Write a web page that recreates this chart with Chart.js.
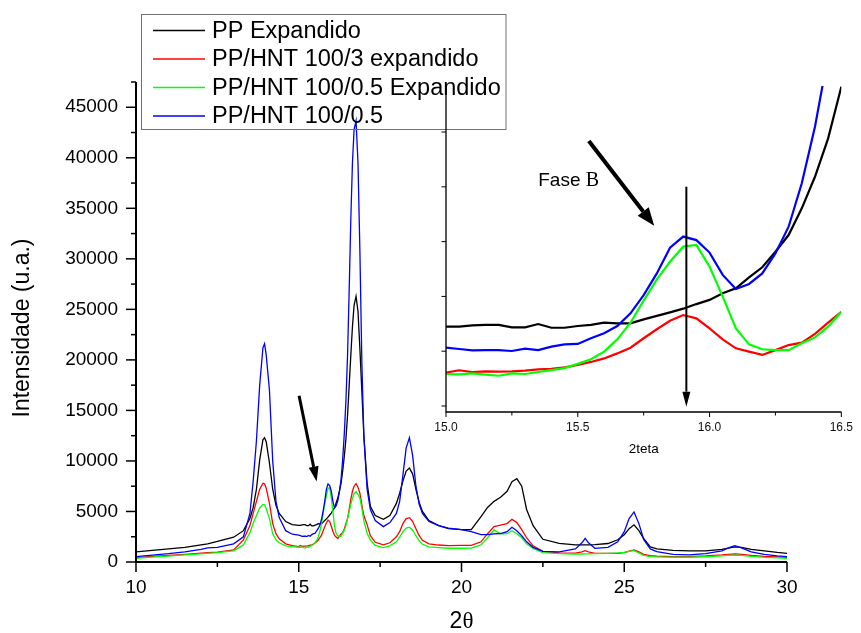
<!DOCTYPE html>
<html>
<head>
<meta charset="utf-8">
<script src="https://cdn.jsdelivr.net/npm/chart.js@4.4.1/dist/chart.umd.min.js"></script>
<style>
    html, body { margin: 0; padding: 0; background: #fff; }
    #wrap { position: relative; width: 861px; height: 633px; }
    #wrap canvas { position: absolute; left: 0; top: 0; }
</style>
</head>
<body>
<div id="wrap">
    <canvas id="mainChart" width="861" height="633"></canvas>
    <canvas id="insetChart" width="861" height="633"></canvas>
</div>
<script>
// 2theta positions (denser around the peaks, 0.05 steps in the zoomed window)
const theta = [
    10.0, 10.5, 11.0, 11.5, 12.0, 12.2, 12.5, 13.0, 13.3, 13.5, 13.6, 13.7, 13.8, 13.9, 13.95, 14.0, 14.1, 14.2, 14.3, 14.4, 14.6, 14.8,
    15.0, 15.05, 15.1, 15.15, 15.2, 15.25, 15.3, 15.35, 15.4, 15.45, 15.5, 15.55, 15.6, 15.65, 15.7, 15.75,
    15.8, 15.85, 15.9, 15.95, 16.0, 16.05, 16.1, 16.15, 16.2, 16.25, 16.3, 16.35, 16.4, 16.45, 16.5,
    16.55, 16.6, 16.65, 16.7, 16.76, 16.82, 16.88, 16.94, 17.0, 17.1, 17.2, 17.35, 17.6, 17.8, 18.0, 18.1,
    18.2, 18.3, 18.4, 18.5, 18.6, 18.7, 18.8, 19.0, 19.3, 19.6, 20.0, 20.3, 20.6, 20.8, 21.0, 21.2, 21.4,
    21.55, 21.7, 21.85, 22.0, 22.2, 22.5, 23.0, 23.5, 23.7, 23.8, 23.9, 24.1, 24.5, 24.8, 25.0, 25.15, 25.3,
    25.45, 25.6, 25.8, 26.0, 26.5, 27.0, 27.5, 28.0, 28.2, 28.4, 28.6, 28.9, 29.3, 29.7, 30.0,
];

const ppExpandido = [
    1000, 1150, 1300, 1450, 1700, 1800, 2050, 2450, 3100, 4300, 5400, 7200, 10100, 12100, 12300, 11900, 9800, 7200, 5600, 4800, 4000, 3700,
    3620, 3620, 3680, 3700, 3700, 3590, 3590, 3740, 3570, 3570, 3650, 3700, 3800, 3770, 3770, 3950,
    4110, 4270, 4440, 4650, 4840, 5140, 5370, 5870, 6330, 7040, 7800, 9020, 10460, 12210, 14570,
    17500, 20500, 23300, 25400, 26300, 24800, 21000, 16800, 12500, 7800, 5500, 4600, 4230, 4600, 5800, 6800,
    8000, 9000, 9300, 8700, 7200, 5900, 5000, 4100, 3600, 3300, 3200, 3200, 4500, 5400, 6000, 6400, 7000,
    7950, 8250, 7500, 5200, 3600, 2250, 1850, 1700, 1700, 1700, 1700, 1720, 1830, 2200, 2700, 3300, 3680,
    3100, 2300, 1500, 1300, 1150, 1100, 1100, 1250, 1380, 1500, 1450, 1250, 1100, 950, 860,
];

const hnt3Expandido = [
    430, 550, 650, 760, 880, 930, 980, 1200, 2180, 3600, 4830, 6000, 7200, 7800, 7750, 7300, 5800, 3800, 2800, 2300, 1800, 1620,
    1520, 1630, 1550, 1580, 1570, 1580, 1610, 1670, 1700, 1760, 1870, 2010, 2170, 2400, 2660, 3090,
    3500, 3890, 4150, 4000, 3540, 3040, 2630, 2480, 2330, 2550, 2780, 2890, 3290, 3800, 4300,
    5200, 6200, 7000, 7500, 7750, 7400, 6800, 5600, 4600, 3700, 2600, 1950, 1690, 1900, 2500, 3000,
    3800, 4300, 4390, 4000, 3300, 2600, 2150, 1800, 1680, 1620, 1650, 1650, 2000, 2800, 3500, 3650, 3800,
    4230, 3900, 3200, 2400, 1600, 1050, 900, 880, 1000, 1120, 1000, 860, 860, 860, 920, 1080, 1200,
    1000, 750, 630, 580, 530, 540, 600, 700, 760, 800, 760, 650, 550, 500, 460,
];

const hnt05Expandido = [
    360, 480, 590, 700, 810, 860, 920, 1100, 1690, 2900, 3830, 4600, 5350, 5700, 5650, 5300, 4300, 2800, 2200, 1900, 1600, 1520,
    1460, 1440, 1490, 1430, 1380, 1490, 1460, 1550, 1640, 1730, 1920, 2130, 2480, 3040, 3800, 4810,
    5780, 6580, 7270, 7350, 6360, 4990, 3540, 2810, 2590, 2550, 2550, 2860, 3130, 3620, 4300,
    5000, 5700, 6300, 6750, 6970, 6700, 6300, 5300, 4100, 2850, 2200, 1650, 1420, 1600, 2000, 2450,
    3000, 3350, 3440, 3150, 2600, 2100, 1750, 1500, 1420, 1360, 1360, 1380, 1700, 2400, 3170, 2780, 2800,
    3100, 2800, 2400, 1800, 1350, 920, 820, 790, 790, 800, 800, 820, 860, 900, 960, 1050, 1120,
    900, 650, 530, 500, 470, 470, 520, 600, 650, 690, 650, 560, 460, 400, 360,
];

const hnt05 = [
    530, 680, 820, 1000, 1250, 1400, 1450, 1800, 2500, 4800, 8000, 12000, 17500, 21200, 21600, 20500, 17000, 10000, 6000, 4400, 3100, 2750,
    2660, 2600, 2540, 2550, 2550, 2510, 2620, 2550, 2710, 2810, 2830, 3090, 3320, 3650, 4230, 5060,
    6050, 7220, 7730, 7570, 7000, 5980, 5340, 5570, 6050, 6960, 8180, 10160, 12740, 16000, 20500,
    27000, 34000, 39500, 42800, 43650, 39500, 30500, 19500, 12500, 7200, 5200, 4100, 3500, 3900, 4800, 6000,
    8600, 11300, 12300, 10500, 7500, 5700, 4800, 4000, 3600, 3350, 3200, 3000, 2700, 2700, 2780, 2820, 3000,
    3440, 3100, 2600, 2000, 1450, 1050, 1000, 1300, 1900, 2350, 1900, 1350, 1450, 2000, 3000, 4300, 4950,
    3800, 2200, 1300, 1030, 750, 700, 820, 1100, 1400, 1620, 1400, 1000, 750, 600, 530,
];

const seriesLabels = ['PP Expandido', 'PP/HNT 100/3 expandido', 'PP/HNT 100/0.5 Expandido', 'PP/HNT 100/0.5'];
const seriesColors = ['#000000', '#ff0000', '#00ff00', '#0000ff'];
const seriesValues = [ppExpandido, hnt3Expandido, hnt05Expandido, hnt05];

const insetYTicks = [0, 2500, 5000, 7500, 10000, 12500];

const FONT = "'Liberation Sans', Arial, sans-serif";
const SERIF = "'Liberation Serif', 'Times New Roman', serif";

function makeDatasets(width) {
    return seriesValues.map((vals, i) => ({
        label: seriesLabels[i],
        data: theta.map((t, k) => ({ x: t, y: vals[k] })),
        borderColor: seriesColors[i],
        borderWidth: width,
        pointRadius: 0,
        tension: 0,
        fill: false,
        order: seriesValues.length - i,
    }));
}

function line(ctx, x1, y1, x2, y2) {
    ctx.beginPath();
    ctx.moveTo(x1, y1);
    ctx.lineTo(x2, y2);
    ctx.stroke();
}

function drawArrow(ctx, x1, y1, x2, y2, width, headLen, headHalf) {
    const ang = Math.atan2(y2 - y1, x2 - x1);
    const bx = x2 - headLen * Math.cos(ang);
    const by = y2 - headLen * Math.sin(ang);
    ctx.save();
    ctx.strokeStyle = '#000';
    ctx.fillStyle = '#000';
    ctx.lineWidth = width;
    line(ctx, x1, y1, bx, by);
    ctx.beginPath();
    ctx.moveTo(x2, y2);
    ctx.lineTo(bx + headHalf * Math.sin(ang), by - headHalf * Math.cos(ang));
    ctx.lineTo(bx - headHalf * Math.sin(ang), by + headHalf * Math.cos(ang));
    ctx.closePath();
    ctx.fill();
    ctx.restore();
}

const mainDecor = {
    id: 'mainDecor',
    afterDraw(chart) {
        const { ctx, chartArea: a, scales: { x, y } } = chart;
        ctx.save();
        ctx.strokeStyle = '#000';

        // axes
        ctx.lineWidth = 2;
        ctx.beginPath();
        ctx.moveTo(a.left, a.top);
        ctx.lineTo(a.left, a.bottom);
        ctx.lineTo(a.right, a.bottom);
        ctx.stroke();

        // tick marks, major ones carry a label
        ctx.lineWidth = 1.5;
        y.ticks.forEach((t) => {
            const p = y.getPixelForValue(t.value);
            line(ctx, a.left - (t.label !== '' ? 10 : 5), p, a.left, p);
        });
        x.ticks.forEach((t) => {
            const p = x.getPixelForValue(t.value);
            line(ctx, p, a.bottom, p, a.bottom + (t.label !== '' ? 10 : 5));
        });

        // axis titles
        ctx.fillStyle = '#000';
        ctx.textAlign = 'center';
        ctx.textBaseline = 'middle';
        ctx.font = `23px ${FONT}`;
        ctx.save();
        ctx.translate(22.5, (a.top + a.bottom) / 2 + 6);
        ctx.rotate(-Math.PI / 2);
        ctx.fillText('Intensidade (u.a.)', 0, 0);
        ctx.restore();

        const cx = (a.left + a.right) / 2;
        ctx.font = `23px ${FONT}`;
        const w2 = ctx.measureText('2').width;
        ctx.font = `23px ${SERIF}`;
        const wt = ctx.measureText('\u03b8').width;
        ctx.textAlign = 'left';
        ctx.font = `23px ${FONT}`;
        ctx.fillText('2', cx - (w2 + wt) / 2, 622);
        ctx.font = `23px ${SERIF}`;
        ctx.fillText('\u03b8', cx - (w2 + wt) / 2 + w2, 622);

        // arrow pointing at the beta phase peak
        drawArrow(ctx, x.getPixelForValue(15.01), y.getPixelForValue(16450),
            x.getPixelForValue(15.55), y.getPixelForValue(7960), 3, 15, 5);

        // legend box
        ctx.strokeStyle = '#707070';
        ctx.lineWidth = 1;
        ctx.strokeRect(141.5, 14.5, 364.5, 115);
        ctx.font = `23.5px ${FONT}`;
        ctx.textBaseline = 'middle';
        seriesLabels.forEach((lab, i) => {
            const yy = 30.5 + i * 28.5;
            ctx.strokeStyle = seriesColors[i];
            ctx.lineWidth = 1.5;
            line(ctx, 153, yy, 205, yy);
            ctx.fillStyle = '#000';
            ctx.fillText(lab, 212, yy + 1);
        });
        ctx.restore();
    },
};

const insetDecor = {
    id: 'insetDecor',
    afterDraw(chart) {
        const { ctx, chartArea: a, scales: { x, y } } = chart;
        ctx.save();
        ctx.strokeStyle = '#000';
        ctx.lineWidth = 1.3;
        ctx.beginPath();
        ctx.moveTo(a.left, a.top - 1);
        ctx.lineTo(a.left, a.bottom);
        ctx.lineTo(a.right, a.bottom);
        ctx.stroke();

        ctx.lineWidth = 1;
        x.ticks.forEach((t) => {
            const p = x.getPixelForValue(t.value);
            line(ctx, p, a.bottom, p, a.bottom + (t.label !== '' ? 5 : 3.5));
        });
        insetYTicks.forEach((v) => {
            const p = y.getPixelForValue(v);
            line(ctx, a.left - 4.5, p, a.left, p);
        });

        ctx.fillStyle = '#000';
        ctx.textAlign = 'center';
        ctx.textBaseline = 'middle';
        ctx.font = `13.5px ${FONT}`;
        ctx.fillText('2teta', (a.left + a.right) / 2, 449);

        // phase label
        const fx = x.getPixelForValue(15.35);
        const fy = y.getPixelForValue(10040);
        ctx.textAlign = 'left';
        ctx.textBaseline = 'alphabetic';
        ctx.font = `19px ${FONT}`;
        ctx.fillText('Fase ', fx, fy);
        const wf = ctx.measureText('Fase ').width;
        ctx.font = `20px ${SERIF}`;
        ctx.fillText('B', fx + wf, fy);

        drawArrow(ctx, x.getPixelForValue(15.542), y.getPixelForValue(12090),
            x.getPixelForValue(15.79), y.getPixelForValue(8225), 4, 18, 7);
        drawArrow(ctx, x.getPixelForValue(15.912), y.getPixelForValue(10005),
            x.getPixelForValue(15.912), y.getPixelForValue(-30), 2, 15, 4);
        ctx.restore();
    },
};

new Chart(document.getElementById('mainChart'), {
    type: 'line',
    data: { datasets: makeDatasets(1.3) },
    options: {
        responsive: false,
        devicePixelRatio: 1,
        animation: false,
        events: [],
        layout: { padding: { left: 0, top: 82, right: 74, bottom: 0 } },
        plugins: { legend: { display: false }, tooltip: { enabled: false } },
        scales: {
            x: {
                type: 'linear',
                min: 10,
                max: 30,
                afterFit(scale) { scale.height = 71; },
                grid: { display: false, drawTicks: false },
                border: { display: false },
                ticks: {
                    stepSize: 2.5,
                    autoSkip: false,
                    maxRotation: 0,
                    padding: 14,
                    color: '#000',
                    font: { family: FONT, size: 19 },
                    callback: (v) => (v % 5 === 0 ? String(v) : ''),
                },
            },
            y: {
                type: 'linear',
                min: 0,
                max: 47500,
                afterFit(scale) { scale.width = 136; },
                grid: { display: false, drawTicks: false },
                border: { display: false },
                ticks: {
                    stepSize: 2500,
                    autoSkip: false,
                    padding: 18,
                    color: '#000',
                    font: { family: FONT, size: 19 },
                    callback: (v) => (v % 5000 === 0 ? String(v) : ''),
                },
            },
        },
    },
    plugins: [mainDecor],
});

new Chart(document.getElementById('insetChart'), {
    type: 'line',
    data: { datasets: makeDatasets(2.2) },
    options: {
        responsive: false,
        devicePixelRatio: 1,
        animation: false,
        events: [],
        layout: { padding: { left: 0, top: 86, right: 12, bottom: 0 } },
        plugins: { legend: { display: false }, tooltip: { enabled: false } },
        scales: {
            x: {
                type: 'linear',
                min: 15,
                max: 16.5,
                afterFit(scale) { scale.height = 221; },
                grid: { display: false, drawTicks: false },
                border: { display: false },
                ticks: {
                    stepSize: 0.25,
                    autoSkip: false,
                    maxRotation: 0,
                    padding: 8,
                    color: '#111',
                    font: { family: FONT, size: 12 },
                    callback: (v) => (Math.abs(v * 2 - Math.round(v * 2)) < 1e-9 ? v.toFixed(1) : ''),
                },
            },
            y: {
                type: 'linear',
                min: -274,
                max: 14600,
                afterFit(scale) { scale.width = 446; },
                grid: { display: false, drawTicks: false },
                border: { display: false },
                ticks: { display: false },
            },
        },
    },
    plugins: [insetDecor],
});
</script>
</body>
</html>
